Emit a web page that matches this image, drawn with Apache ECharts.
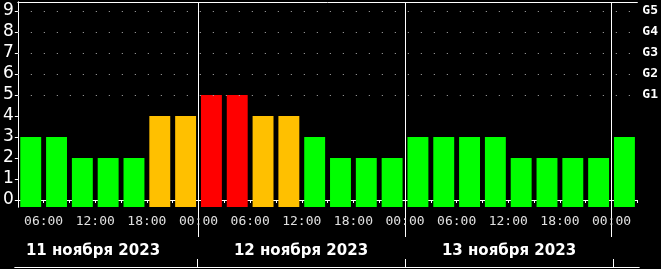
<!DOCTYPE html>
<html><head><meta charset="utf-8">
<script src="https://cdn.jsdelivr.net/npm/echarts@6/dist/echarts.min.js"></script>
<style>html,body{margin:0;padding:0;background:#000}#c{width:661px;height:269px}</style>
</head><body><div id="c"></div>
<script>
// 3-hour slots, 11 Nov 03:00 .. 14 Nov 03:00
const slots = ['11.11 03','11.11 06','11.11 09','11.11 12','11.11 15','11.11 18','11.11 21',
  '12.11 00','12.11 03','12.11 06','12.11 09','12.11 12','12.11 15','12.11 18','12.11 21',
  '13.11 00','13.11 03','13.11 06','13.11 09','13.11 12','13.11 15','13.11 18','13.11 21',
  '14.11 00'];
const kp = [3,3,2,2,2,4,4, 5,5,4,4,3,2,2,2, 3,3,3,3,2,2,2,2, 3];
const timeTickLabels = ['', '06:00', '', '12:00', '', '18:00', '', '00:00',
  '', '06:00', '', '12:00', '', '18:00', '', '00:00',
  '', '06:00', '', '12:00', '', '18:00', '', '00:00', ''];
const dayBoundaries = [7, 15, 23];
const dayCenters = [3, 11, 19];
const dayLabels = ['11 ноября 2023', '12 ноября 2023', '13 ноября 2023'];
const kpTicks = [0,1,2,3,4,5,6,7,8,9];
const gLevels = [5,6,7,8,9];
const gLabels = ['G1','G2','G3','G4','G5'];

const WHITE = '#ffffff';
const yMin = -1/3, yMax = 9.43;

function kpColor(v){ return v >= 5 ? '#ff0000' : (v >= 4 ? '#ffc000' : '#00ff00'); }

const chart = echarts.init(document.getElementById('c'), null, {renderer:'canvas'});
chart.setOption({
  backgroundColor: '#000',
  animation: false,
  grid: [
    {left: 15, right: 22, top: 2, bottom: 62},
    {left: 15, right: 22, top: 237, bottom: 2}
  ],
  xAxis: [
    {type: 'category', gridIndex: 0, data: slots, position: 'bottom',
     axisLine: {lineStyle: {color: WHITE, width: 1}}, axisTick: {show: false}, axisLabel: {show: false}, splitLine: {show: false}},
    {type: 'value', gridIndex: 0, min: 0, max: 24, interval: 1, position: 'bottom',
     axisLine: {show: false}, splitLine: {show: false},
     axisTick: {show: true, length: 3, lineStyle: {color: WHITE}},
     axisLabel: {show: true, margin: 8, color: '#e0e0e0', fontFamily: 'DejaVu Sans Mono', fontSize: 13,
       formatter: v => timeTickLabels[Math.round(v)] || ''}},
    {type: 'value', gridIndex: 0, min: 0, max: 24, position: 'top',
     axisLine: {show: true, lineStyle: {color: WHITE}}, axisTick: {show: false}, axisLabel: {show: false}, splitLine: {show: false}},
    {type: 'value', gridIndex: 0, min: 0, max: 24, position: 'bottom',
     axisLine: {show: false}, axisLabel: {show: false}, splitLine: {show: false},
     axisTick: {show: true, length: 30, customValues: dayBoundaries, lineStyle: {color: WHITE}}},
    {type: 'value', gridIndex: 1, min: 0, max: 24, position: 'top',
     axisLine: {show: true, lineStyle: {color: WHITE}}, axisTick: {show: false}, splitLine: {show: false},
     axisLabel: {show: true, inside: true, margin: 7, customValues: dayCenters,
       formatter: v => dayLabels[dayCenters.indexOf(Math.round(v))] || '',
       color: WHITE, fontFamily: 'DejaVu Sans', fontWeight: 'bold', fontSize: 15}},
    {type: 'value', gridIndex: 1, min: 0, max: 24, position: 'bottom',
     axisLine: {show: true, lineStyle: {color: WHITE}}, axisLabel: {show: false}, splitLine: {show: false},
     axisTick: {show: true, inside: true, length: 8, customValues: dayBoundaries, lineStyle: {color: WHITE}}}
  ],
  yAxis: [
    {type: 'value', gridIndex: 0, min: yMin, max: yMax, startValue: yMin, position: 'left',
     axisLine: {show: true, lineStyle: {color: WHITE}}, splitLine: {show: false},
     axisTick: {show: true, length: 2, customValues: kpTicks, lineStyle: {color: WHITE}},
     axisLabel: {show: true, margin: 4, customValues: kpTicks, color: WHITE, fontFamily: 'DejaVu Sans', fontSize: 17,
       formatter: v => String(Math.round(v))}},
    {type: 'value', gridIndex: 0, min: yMin, max: yMax, position: 'right',
     axisLine: {show: true, lineStyle: {color: WHITE}}, splitLine: {show: false},
     axisTick: {show: true, inside: true, length: 3, customValues: kpTicks, lineStyle: {color: WHITE}},
     axisLabel: {show: true, margin: 5, customValues: gLevels, color: WHITE, fontFamily: 'DejaVu Sans Mono', fontWeight: 'bold', fontSize: 13,
       formatter: v => gLabels[gLevels.indexOf(Math.round(v))] || ''}},
    {type: 'value', gridIndex: 1, min: 0, max: 1, show: false}
  ],
  series: [
    {type: 'bar', xAxisIndex: 0, yAxisIndex: 0, data: kp, barCategoryGap: '19%',
     itemStyle: {color: p => kpColor(p.value)},
     markLine: {silent: true, symbol: 'none', label: {show: false},
       lineStyle: {color: '#b0b0b0', type: [1, 12], width: 1},
       data: gLevels.map(v => ({yAxis: v}))}},
    {type: 'line', xAxisIndex: 1, yAxisIndex: 0, data: [], silent: true,
     markLine: {silent: true, symbol: 'none', label: {show: false},
       lineStyle: {color: WHITE, type: 'solid', width: 1},
       data: dayBoundaries.map(v => ({xAxis: v}))}}
  ]
});
</script></body></html>
